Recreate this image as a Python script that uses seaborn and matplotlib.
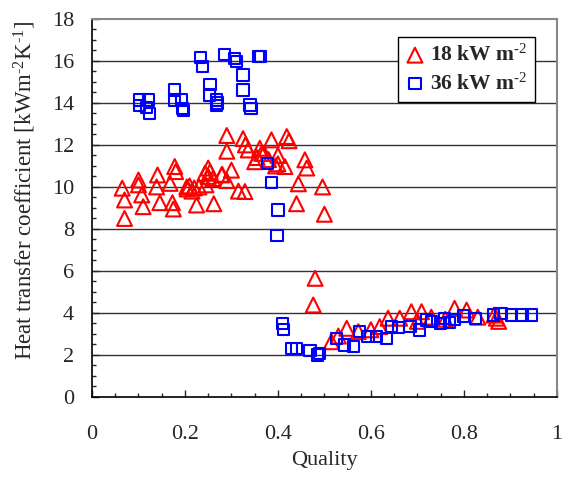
import seaborn as sns
import matplotlib.pyplot as plt
from matplotlib.ticker import MultipleLocator
import pandas as pd

# data
quality_18 = [0.065, 0.07, 0.07, 0.10, 0.10, 0.107, 0.11, 0.141, 0.139, 0.146,
              0.178, 0.18, 0.168, 0.173, 0.175, 0.204, 0.21, 0.215, 0.225, 0.22,
              0.23, 0.205, 0.243, 0.25, 0.245, 0.254, 0.25, 0.26, 0.262, 0.279,
              0.28, 0.29, 0.29, 0.30, 0.29, 0.315, 0.329, 0.325, 0.33, 0.336,
              0.35, 0.355, 0.361, 0.365, 0.37, 0.38, 0.386, 0.40, 0.40, 0.395,
              0.415, 0.419, 0.424, 0.458, 0.462, 0.444, 0.44, 0.496, 0.50, 0.48,
              0.476,
              0.515, 0.53, 0.548, 0.573, 0.60, 0.619, 0.637, 0.662, 0.687, 0.70,
              0.709, 0.73, 0.76, 0.78, 0.806, 0.83, 0.865, 0.87, 0.875]
htc_18 = [9.94, 9.38, 8.5, 10.33, 10.1, 9.62, 9.06, 10.57, 10.0, 9.25,
          10.97, 10.73, 10.17, 9.25, 8.95, 10.0, 10.05, 9.8, 9.14, 9.95,
          10.0, 9.9, 10.65, 10.9, 10.1, 10.73, 10.5, 10.4, 9.2, 10.57,
          10.6, 12.45, 11.7, 10.8, 10.3, 9.8, 9.78, 12.3, 12.0, 11.76,
          11.2, 11.4, 11.84, 11.6, 11.6, 11.3, 12.24, 11.5, 11.1, 11.0,
          10.97, 12.4, 12.2, 11.29, 10.9, 10.15, 9.2, 10.0, 8.7, 5.65,
          4.38,
          2.63, 2.9, 3.27, 3.11, 3.2, 3.35, 3.75, 3.75, 4.06, 3.6,
          4.06, 3.8, 3.7, 4.22, 4.14, 3.8, 3.9, 3.75, 3.6]

quality_36 = [0.103, 0.103, 0.121, 0.117, 0.123, 0.178, 0.177, 0.193, 0.195, 0.197,
              0.234, 0.238, 0.254, 0.252, 0.267, 0.267, 0.27, 0.285, 0.307, 0.311,
              0.325, 0.325, 0.34, 0.342, 0.358, 0.362, 0.377, 0.386, 0.40, 0.398,
              0.41, 0.412, 0.43, 0.44, 0.469, 0.49, 0.485, 0.526, 0.544, 0.562,
              0.576, 0.594, 0.612, 0.634, 0.645, 0.66, 0.684, 0.705, 0.72, 0.73,
              0.75, 0.759, 0.77, 0.78, 0.80, 0.825, 0.863, 0.88, 0.902, 0.925,
              0.946]
htc_36 = [14.14, 13.86, 14.14, 13.8, 13.48, 14.62, 14.14, 14.14, 13.75, 13.65,
          16.17, 15.73, 14.86, 14.38, 14.14, 13.86, 14.0, 16.29, 16.13, 15.97,
          15.33, 14.62, 13.9, 13.75, 16.21, 16.21, 11.1, 10.2, 8.9, 7.67,
          3.5, 3.2, 2.3, 2.3, 2.2, 2.08, 2.0, 2.79, 2.48, 2.4,
          3.11, 2.87, 2.87, 2.79, 3.35, 3.3, 3.35, 3.19, 3.67, 3.6,
          3.5, 3.75, 3.56, 3.7, 3.86, 3.75, 3.9, 3.98, 3.9, 3.9,
          3.9]

df18 = pd.DataFrame({'Quality': quality_18, 'HTC': htc_18})
df36 = pd.DataFrame({'Quality': quality_36, 'HTC': htc_36})

sns.set_style('ticks')
plt.rcParams['font.family'] = ['Liberation Serif', 'DejaVu Serif']
plt.rcParams['mathtext.fontset'] = 'custom'
plt.rcParams['mathtext.rm'] = 'Liberation Serif'
plt.rcParams['mathtext.it'] = 'Liberation Serif:bold'
plt.rcParams['mathtext.bf'] = 'Liberation Serif:bold'

fig = plt.figure(figsize=(5.63, 4.79), dpi=100)
ax = fig.add_axes([0.1634, 0.1712, 0.8256, 0.7893])

# horizontal grid
for yv in range(2, 18, 2):
    ax.axhline(yv, color='#333333', lw=1.0, zorder=0)

sns.scatterplot(data=df18, x='Quality', y='HTC', marker='^', s=115,
                facecolor='none', edgecolor='red', linewidth=1.5,
                label=r'18 kW m$^{\mathbf{\text{-2}}}$', ax=ax, zorder=3)
sns.scatterplot(data=df36, x='Quality', y='HTC', marker='s', s=65,
                facecolor='none', edgecolor='blue', linewidth=1.5,
                label=r'36 kW m$^{\mathbf{\text{-2}}}$', ax=ax, zorder=3)

ax.set_xlim(0, 1)
ax.set_ylim(0, 18)
ax.xaxis.set_minor_locator(MultipleLocator(0.05))
ax.yaxis.set_major_locator(MultipleLocator(2))
ax.yaxis.set_minor_locator(MultipleLocator(0.5))
ax.set_xticks([0, 0.2, 0.4, 0.6, 0.8, 1])
ax.set_xticklabels(['0', '0.2', '0.4', '0.6', '0.8', '1'])
ax.tick_params(which='major', direction='in', length=5, width=1, labelsize=16)
ax.tick_params(which='minor', direction='in', length=3, width=1)
ax.tick_params(axis='x', pad=20)
ax.tick_params(axis='y', pad=13)

for side in ['top', 'right']:
    ax.spines[side].set_color('#888888')
    ax.spines[side].set_linewidth(1.5)
for side in ['left', 'bottom']:
    ax.spines[side].set_color('black')
    ax.spines[side].set_linewidth(1.2)

ax.set_xlabel('Quality', fontsize=16, labelpad=5)
ax.set_ylabel(r'Heat transfer coefficient [kWm$^{\text{-2}}$K$^{\text{-1}}$]',
              fontsize=16.5)
ax.yaxis.set_label_coords(-0.117, 0.545)

leg = ax.legend(loc='upper right', bbox_to_anchor=(0.953, 0.952), frameon=True,
                fancybox=False, framealpha=1, edgecolor='black',
                prop={'weight': 'bold', 'size': 15.5}, handletextpad=0.25,
                borderpad=0.35, labelspacing=0.35, handlelength=0.9,
                borderaxespad=0)
leg.get_frame().set_linewidth(1.0)

plt.savefig('out.png', dpi=100)
